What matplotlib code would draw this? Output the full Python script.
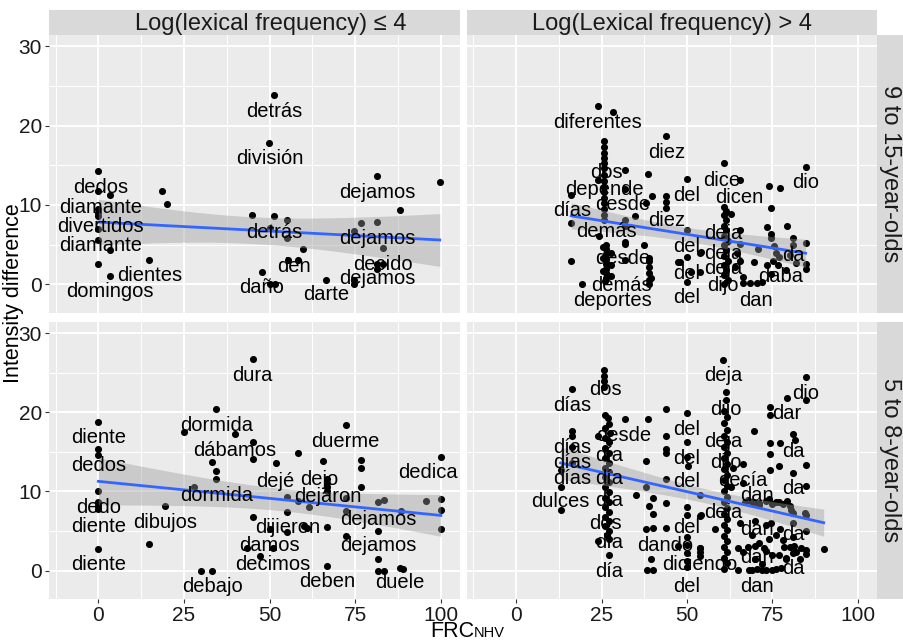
import matplotlib
matplotlib.use("Agg")
import matplotlib.pyplot as plt
import numpy as np

plt.rcParams['font.family'] = ['Liberation Sans', 'DejaVu Sans']

# ---- data: FRC (x) vs intensity difference (y), one block per facet ----
# top-left: 9 to 15-year-olds, log freq <= 4
tl_x = [0, 0, 3.5, 0, 0, 0, 0, 0, 3.5, 0, 3.5, 14.9, 18.5, 20, 51.4, 49.9, 45, 51.4, 50, 55,
        55, 59.9, 55.3, 58.2, 47.7, 50, 51.7, 66.5, 74.7, 76.7, 81.5, 81.5, 88, 99.7, 83, 81.5,
        83, 81.5, 74.7, 74.7]
tl_y = [14.3, 11.8, 11.2, 9.5, 9.0, 8.6, 7.0, 5.55, 4.3, 2.6, 1.1, 3.1, 11.8, 10.1, 23.8, 17.8,
        8.7, 8.6, 7.1, 8.1, 5.85, 4.4, 3.1, 3.1, 1.55, 0.1, 0.0, 0.6, 6.7, 7.75, 7.9, 13.6, 9.35,
        12.9, 4.6, 2.6, 2.6, 2.0, 0.1, 0.5]
tl_words = ['detrás', 'división', 'dedos', 'diamante', 'divertidos', 'diamante', 'dientes',
            'domingos', 'detrás', 'den', 'daño', 'darte', 'dejamos', 'dejamos', 'decido', 'dejamos']
tl_wx = [51.4, 50, 0.6, 0.6, 0.6, 0.6, 15.0, 3.5, 51.4, 57, 47.7, 66.5, 81.5, 81.5, 83, 81.5]
tl_wy = [21.8, 15.8, 12.2, 9.7, 7.3, 4.9, 1.1, -0.9, 6.5, 2.3, -0.4, -1.3, 11.6, 5.8, 2.5, 0.7]

# top-right: 9 to 15-year-olds, log freq > 4
tr_x = [23.9, 28.3, 43.7,
        25.8, 25.8, 25.8, 25.8, 25.8, 25.8, 25.8, 25.8, 25.8, 25.8, 25.8, 25.8, 25.8, 25.8, 25.8,
        31.7, 38.5, 50, 23.9, 16.1, 31.7, 39.8, 43.9, 43.9, 43.9, 38, 16.1, 34.9, 31.7, 24.2,
        26.3, 26.3, 26.3, 26.3, 26.3, 26.3, 26.3, 26.3,
        25.3, 27.8, 25.5, 27.8, 25.3, 27.8, 26, 31.7, 31.7, 39, 39.5,
        31.7, 37.4, 16.1, 39, 39, 39, 39, 39, 50, 50, 50, 19.3, 47.8, 31.7, 47.3,
        60.7, 65.4, 74, 77.1, 84.7, 74.6,
        60.7, 61.5, 60.7, 62.9, 61.5, 60.7, 61.5, 60.7, 62, 60.7, 61.5, 60.7, 62, 60.7, 61.5,
        60.7, 62, 60.7,
        65.4, 65.4, 64.5, 65.4, 64, 54.2, 51.2,
        73.4, 79.3, 74.6, 74.6, 81, 84.7, 70.7, 75.5, 76, 77, 75.2, 76.5, 81, 80, 53.9, 69.5,
        73.4, 79, 84.7, 84.7, 82, 53.7, 66.3, 66.3, 68.5, 70.5, 72, 74.6]
tr_y = [22.5, 21.7, 18.7,
        18.0, 17.3, 16.6, 15.9, 15.3, 14.6, 13.8, 13.0, 12.3, 11.6, 10.9, 10.2, 9.5, 8.8, 8.1,
        14.4, 13.9, 13.3, 13.1, 11.25, 12.0, 11.1, 11.1, 10.4, 9.6, 10.2, 7.7, 8.6, 7.3, 6.1,
        5.0, 4.4, 3.8, 3.2, 2.6, 2.0, 1.4, 0.8,
        4.7, 3.9, 3.3, 2.4, 1.7, 1.0, 0.4, 5.35, 3.1, 3.3, 0.8,
        5.1, 5.0, 2.9, 3.0, 2.2, 1.4, 0.6, 0.1, 6.8, 3.45, 0.3, 0.1, 2.8, 8.1, 2.8,
        15.25, 13.15, 12.4, 12.1, 14.8, 9.6,
        9.8, 9.3, 8.7, 8.9, 8.1, 7.4, 6.8, 6.1, 5.5, 4.9, 4.3, 3.6, 3.0, 2.4, 1.8,
        1.2, 0.6, 0.1,
        6.8, 5.1, 4.0, 3.0, 2.2, 4.1, 1.6,
        7.25, 7.3, 6.4, 5.9, 5.8, 5.2, 4.4, 4.8, 4.0, 3.4, 2.9, 2.5, 4.9, 3.7, 3.9, 2.8,
        2.5, 1.8, 2.6, 2.0, 2.7, 1.6, 0.9, 0.2, 0.2, 0.2, 0.3, 1.3]
tr_words = ['diferentes', 'diez', 'dos', 'depende', 'desde', 'días', 'demás', 'diez', 'desde',
            'demás', 'deportes', 'del', 'dice', 'dicen', 'dio', 'deja', 'del', 'deja', 'del',
            'deja', 'dijo', 'da', 'daba', 'del', 'dan']
tr_wx = [23.9, 43.9, 26.3, 25.8, 31.2, 16.4, 26.3, 43.9, 31.2, 30.7, 28.1, 50, 60, 65.4, 84.7,
         60.5, 50, 60.5, 50, 60.5, 60.5, 81, 77.3, 50, 70.2]
tr_wy = [20.4, 16.6, 14.1, 12.0, 10.1, 9.3, 6.7, 8.0, 3.25, -0.1, -2.0, 11.25, 13.1, 11.0, 12.85,
         6.4, 4.8, 3.9, 1.4, 2.0, -0.1, 3.7, 1.0, -1.6, -2.0]

# bottom-left: 5 to 8-year-olds, log freq <= 4
bl_x = [45.1, 34.5, 0, 24.9, 39.9, 45.1, 72.2, 0, 0, 45.1, 58.4, 65.7, 76.6, 76.6, 76.6, 33.3,
        51.8, 34.5, 34.5, 100, 66.7, 66.7, 66.7, 66.7, 27.9, 0, 0, 0, 0, 19.4, 55.2, 55.2, 58.4,
        61.5, 72.2, 72.2, 81.8, 83.4, 95.6, 100, 100, 100, 88.3, 45.1, 50.1, 55.2, 60, 61, 66.7,
        81.8, 72.2, 14.9, 43.5, 51, 47.2, 0, 81.8, 30.1, 33.3, 66.7, 81.8, 83.4, 88.1, 89.1]
bl_y = [26.7, 20.45, 18.8, 17.45, 17.25, 16.3, 18.35, 15.3, 14.65, 14.1, 14.85, 13.9, 13.95,
        12.9, 10.5, 13.7, 13.6, 12.6, 11.5, 14.4, 11.5, 11.0, 10.5, 10.0, 10.5, 10.0, 8.6, 8.2,
        7.8, 8.1, 9.35, 7.4, 8.8, 8.0, 9.1, 7.5, 8.6, 8.9, 8.75, 9.05, 7.6, 5.25, 7.5, 6.75, 5.2,
        4.9, 5.6, 5.4, 5.5, 5.0, 4.4, 3.4, 2.85, 2.85, 1.8, 2.75, 1.5, 0.0, 0.0, 0.6, 0.0, 0.0,
        0.35, 0.2]
bl_words = ['dura', 'dormida', 'diente', 'dábamos', 'duerme', 'dedos', 'dedica', 'dejé', 'dejo',
            'dormida', 'dejaron', 'dedo', 'diente', 'dibujos', 'dijieron', 'dejamos', 'damos',
            'dejamos', 'diente', 'decimos', 'debajo', 'deben', 'duele']
bl_wx = [45.1, 34.5, 0, 39.9, 72, 0, 96.1, 51.8, 64.4, 34.5, 66.9, 0, 0, 19.4, 55.2, 81.8, 50.1,
         81.8, 0, 50.8, 33.2, 66.7, 88.1]
bl_wy = [24.6, 18.35, 16.8, 15.15, 16.3, 13.3, 12.4, 11.3, 11.5, 9.5, 9.4, 8.0, 5.5, 6.1, 5.4,
         6.5, 3.15, 3.1, 0.75, 0.7, -2.0, -1.4, -1.5]

# bottom-right: 5 to 8-year-olds, log freq > 4
br_x = [16.3, 25.8, 25.8, 25.8, 25.8,
        26, 26.8, 27.3, 26, 27.5, 26, 27.3, 26, 27.3, 26, 27.3, 26, 27.3, 26, 27.3, 26, 27.3, 26,
        27.3, 26, 27.3, 26, 27.3, 26, 27.3, 26.5, 27.3, 23.9, 27.3,
        31.7, 38.5, 43.9, 50,
        16.3, 16.3, 23.9, 43.9, 50, 16.3, 43.9, 43.9, 38, 50.2, 50, 16.3, 13, 13, 43.9, 38, 35.1,
        39, 40, 43.9, 13, 40, 50, 50, 40, 43.9, 38, 39.5, 40, 38.3, 47.3,
        50, 50, 50, 50, 50,
        53.7, 53.7, 53.7, 53.7, 58.3,
        60.5, 84.7, 61.3, 61.3, 79.3, 84.7, 74.4, 74.4, 69.5, 81, 81.5, 74.2, 77.1, 74.4, 66.3,
        76.9, 84.7, 74.4, 81, 66.3, 84.7,
        74, 76, 78, 80, 79.3, 67.8, 69.5, 71.2, 80.3, 84.7, 54.2, 65.4, 74.6, 84.7, 77.1, 53.7,
        53.7, 65, 66.5, 69, 71, 73, 70, 72, 75, 74, 76, 78, 80, 82, 79, 81, 84.7, 84.7, 90, 65,
        69, 72, 75, 77.5,
        67, 69, 71, 73, 75, 77, 81, 84.5, 70, 73, 81, 67.7, 70, 72.6, 78.5, 81.4, 83.4, 77, 79,
        81, 83, 68, 70.5, 73, 76,
        60.7, 61.8, 60.7, 61.8, 60.7, 61.8, 60.7, 61.8, 60.7, 61.8, 60.7, 61.8, 60.7, 61.8, 60.7,
        61.8, 60.7, 61.8, 60.7, 61.8, 60.7, 61.8, 60.7, 61.8, 60.7, 61.8, 60.7, 61.8, 60.7,
        63.5, 63]
br_y = [22.9, 25.3, 24.6, 23.9, 23.2,
        19.7, 19.3, 18.5, 18.0, 17.4, 16.8, 16.2, 15.5, 14.9, 14.2, 13.6, 13.0, 12.4, 11.8, 11.2,
        10.5, 9.9, 9.2, 8.6, 8.0, 7.4, 6.8, 6.2, 5.6, 5.0, 4.5, 4.0, 3.7, 1.9,
        19.1, 19.1, 20.45, 19.9,
        17.6, 17.0, 16.95, 16.95, 16.2, 15.6, 15.3, 14.8, 13.8, 13.2, 14.3, 13.6, 12.75, 10.6,
        11.6, 10.6, 9.6, 8.1, 9.2, 8.5, 7.7, 7.1, 8.0, 7.0, 5.4, 5.4, 5.2, 1.4, 0.1, 0.1, 3.1,
        4.2, 3.2, 2.2, 1.2, 0.4,
        2.9, 1.8, 9.6, 6.9, 5.2,
        26.6, 24.5, 22.5, 21.6, 21.8, 21.6, 20.6, 19.7, 17.6, 17.3, 16.5, 16.1, 16.1, 14.7, 13.5,
        13.2, 13.35, 12.75, 12.3, 11.1, 10.7,
        9.0, 8.6, 8.4, 8.2, 8.75, 8.9, 8.6, 8.3, 7.7, 7.0, 7.0, 6.0, 6.0, 5.0, 5.2, 2.8,
        2.3, 2.8, 2.3, 4.5, 3.5, 2.5, 1.5, 0.8, 2.0, 4.0, 4.5, 3.8, 3.0, 2.4, 1.5, 4.2, 2.6, 2.1,
        2.75, 0.1, 0.1, 0.1, 0.1, 0.3,
        8.6, 8.7, 8.5, 8.8, 8.4, 8.6, 7.3, 7.3, 6.2, 5.8, 6.0, 3.0, 3.1, 2.9, 3.0, 3.1, 2.9, 2.0,
        1.6, 2.2, 1.5, 0.1, 0.2, 0.1, 0.2,
        20.2, 19.4, 18.6, 17.8, 17.0, 16.3, 15.6, 14.9, 14.2, 13.5, 12.8, 12.1, 11.4, 10.7, 10.0,
        9.3, 8.6, 7.9, 7.2, 6.5, 5.8, 5.1, 4.4, 3.7, 3.0, 2.3, 1.6, 0.9, 0.2,
        13.0, 10.5]
br_words = ['dos', 'días', 'deja', 'dijo', 'dio', 'dar', 'del', 'desde', 'deja', 'días', 'día',
            'da', 'del', 'dijo', 'días', 'días', 'día', 'del', 'decía', 'da', 'dan', 'dulces',
            'día', 'deja', 'dos', 'del', 'dan', 'da', 'día', 'dando', 'dan', 'diciendo', 'da',
            'día', 'del', 'dan']
br_wx = [26, 16.4, 60.5, 61.3, 84.7, 79.3, 50, 31.5, 60.5, 16.4, 27.3, 81, 50, 61.3, 16.4, 16.4,
         27.3, 50, 66.2, 81, 70.4, 13, 27.3, 60.5, 26, 50, 70.4, 81, 27.3, 43.7, 70.4, 53.7, 81,
         27.3, 50, 70.4]
br_wy = [22.9, 20.8, 24.6, 20.4, 22.35, 19.8, 17.8, 17.05, 16.3, 15.5, 14.5, 15.05, 14.1, 13.7,
         13.6, 11.6, 11.6, 11.3, 11.4, 10.3, 9.5, 8.75, 8.85, 7.3, 6.0, 5.4, 5.2, 4.55, 3.5, 3.15,
         1.6, 0.7, 0.2, -0.1, -2.05, -2.05]

col_titles = ['Log(lexical frequency) ≤ 4', 'Log(Lexical frequency) > 4']
row_titles = ['9 to 15-year-olds', '5 to 8-year-olds']

panels = [[(tl_x, tl_y, tl_words, tl_wx, tl_wy), (tr_x, tr_y, tr_words, tr_wx, tr_wy)],
          [(bl_x, bl_y, bl_words, bl_wx, bl_wy), (br_x, br_y, br_words, br_wx, br_wy)]]

# ---- layout (pixel boxes in a 904x642 canvas) ----
W, H = 904, 642
fig = plt.figure(figsize=(W / 100, H / 100), dpi=100)


def rect(x0, y0, x1, y1):
    return [x0 / W, 1 - y1 / H, (x1 - x0) / W, (y1 - y0) / H]


col_px = [(49, 460), (467, 877)]
row_px = [(35, 313), (322, 599)]
panel_bg = '#EBEBEB'
strip_bg = '#D9D9D9'
tick_col = '#1a1a1a'

for r in range(2):
    for c in range(2):
        x, y, words, wx, wy = panels[r][c]
        x = np.array(x, float)
        y = np.array(y, float)
        ax = fig.add_axes(rect(col_px[c][0], row_px[r][0], col_px[c][1], row_px[r][1]))
        ax.set_facecolor(panel_bg)
        ax.set_xlim(-14.4, 105.6)
        ax.set_ylim(-3.6, 31.4)
        for s in ax.spines.values():
            s.set_visible(False)
        ax.set_xticks([0, 25, 50, 75, 100])
        ax.set_yticks([0, 10, 20, 30])
        ax.set_xticks([-12.5, 12.5, 37.5, 62.5, 87.5], minor=True)
        ax.set_yticks([5, 15, 25], minor=True)
        ax.grid(which='major', color='white', lw=1.4)
        ax.grid(which='minor', color='white', lw=0.7)
        ax.set_axisbelow(True)
        ax.tick_params(which='minor', length=0)
        ax.tick_params(which='major', length=3, width=0.8, color='#333333',
                       labelsize=15, labelcolor=tick_col, pad=2)
        if c == 1:
            ax.tick_params(axis='y', left=False, labelleft=False)
        if r == 0:
            ax.tick_params(axis='x', bottom=False, labelbottom=False)

        ax.scatter(x, y, s=26, color='black', linewidths=0, zorder=2)

        # linear fit with 95% band, like geom_smooth(method = "lm")
        n = len(x)
        slope, icpt = np.polyfit(x, y, 1)
        resid = y - (icpt + slope * x)
        s_err = np.sqrt(np.sum(resid ** 2) / (n - 2))
        sxx = np.sum((x - x.mean()) ** 2)
        t_crit = 1.96 + 2.5 / (n - 2)
        xs = np.linspace(x.min(), x.max(), 100)
        fit = icpt + slope * xs
        half = t_crit * s_err * np.sqrt(1 / n + (xs - x.mean()) ** 2 / sxx)
        ax.fill_between(xs, fit - half, fit + half, color='#999999', alpha=0.4, lw=0, zorder=3)
        ax.plot(xs, fit, color='#3366FF', lw=2.0, zorder=4)

        for w, lx, ly in zip(words, wx, wy):
            ax.text(lx, ly, w, ha='center', va='center', fontsize=14.5, color='black', zorder=5)

# strips
strip_cx = [0.54, 0.5]
for c in range(2):
    sax = fig.add_axes(rect(col_px[c][0], 10, col_px[c][1], 35))
    sax.set_facecolor(strip_bg)
    sax.set_xticks([]); sax.set_yticks([])
    for s in sax.spines.values():
        s.set_visible(False)
    sax.text(strip_cx[c], 0.45, col_titles[c], ha='center', va='center', fontsize=17,
             color='#1a1a1a', transform=sax.transAxes)
for r in range(2):
    sax = fig.add_axes(rect(877, row_px[r][0], 903, row_px[r][1]))
    sax.set_facecolor(strip_bg)
    sax.set_xticks([]); sax.set_yticks([])
    for s in sax.spines.values():
        s.set_visible(False)
    sax.text(0.5, 0.5, row_titles[r], ha='center', va='center', fontsize=17, rotation=-90,
             color='#1a1a1a', transform=sax.transAxes)

# axis titles
fig.text(14 / W, 1 - 293 / H, 'Intensity difference', rotation=90, ha='center', va='center',
         fontsize=15.5)
fig.text(474 / W, 1 - 637 / H, 'FRC', ha='right', va='baseline', fontsize=15.5)
fig.text(474 / W, 1 - 637 / H, 'NHV', ha='left', va='baseline', fontsize=10.5)

fig.savefig('out.png', dpi=100)
